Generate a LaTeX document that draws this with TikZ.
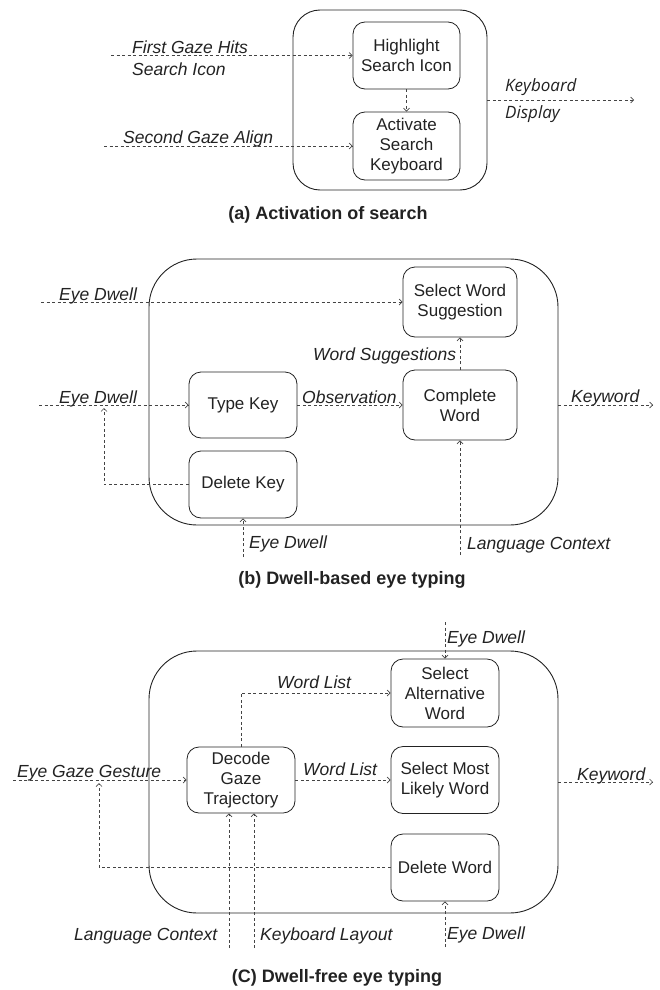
\documentclass[tikz,border=0pt]{standalone}
\usepackage{fontspec}
\setmainfont{Liberation Sans}
\newfontfamily\osans{Open Sans}
\usetikzlibrary{arrows.meta}
\definecolor{ink}{HTML}{222222}
\definecolor{wire}{HTML}{444444}
\begin{document}
\begin{tikzpicture}[x=1pt,y=-1pt,
  proc/.style={draw=ink, line width=0.8pt, rounded corners=12pt, align=center,
    font=\fontsize{17}{20}\selectfont, text=ink, inner sep=0pt},
  outerbox/.style={draw=ink, line width=0.9pt, inner sep=0pt},
  flow/.style={draw=wire, line width=0.7pt, dash pattern=on 3pt off 2.5pt,
    -{Straight Barb[length=3pt,width=6pt]}},
  lab/.style={font=\fontsize{17.5}{20}\selectfont\itshape, text=ink, inner sep=0pt, anchor=base west},
  olab/.style={font=\fontsize{17}{20}\osans\itshape, text=ink, inner sep=0pt, anchor=base west},
  captext/.style={font=\fontsize{18}{20}\selectfont\bfseries, text=ink, inner sep=0pt, anchor=base}
]
\useasboundingbox (0,0) rectangle (660,990);

% ---------------- (a) ----------------
\node[outerbox, rounded corners=27pt, minimum width=194pt, minimum height=180pt] (A) at (390,100) {};
\node[proc, minimum width=107pt, minimum height=67pt] (hl) at (406.5,55.5) {Highlight\\Search Icon};
\node[proc, minimum width=107pt, minimum height=68pt] (ak) at (406.5,146) {Activate\\Search\\Keyboard};
\coordinate (a1) at (111,55.5);
\coordinate (a2) at (104,146);
\coordinate (aout) at (634,100);
\draw[flow] (a1) -- (hl.west);
\draw[flow] (a2) -- (ak.west);
\draw[flow] (hl) -- (ak);
\draw[flow] (A.east) -- (aout);
\node[lab] (la1) at (132,53) {First Gaze Hits};
\node[lab] (la2) at (132,75) {Search Icon};
\node[lab] (la3) at (123,143) {Second Gaze Align};
\node[olab] (la4) at (505,91) {Keyboard};
\node[olab] (la5) at (505,118) {Display};
\node[captext] (capa) at (328,219) {(a) Activation of search};

% ---------------- (b) ----------------
\node[outerbox, rounded corners=48pt, minimum width=409pt, minimum height=266pt] (B) at (353.5,392) {};
\node[proc, minimum width=114pt, minimum height=70pt] (sws) at (460,302) {Select Word\\Suggestion};
\node[proc, minimum width=114pt, minimum height=70pt] (cw) at (460,405) {Complete\\Word};
\node[proc, minimum width=108pt, minimum height=66pt] (tk) at (243,405) {Type Key};
\node[proc, minimum width=108pt, minimum height=67pt] (dk) at (243,484.5) {Delete Key};
\coordinate (b1) at (41,302);
\coordinate (b2) at (39,405);
\coordinate (b3) at (104,408);
\coordinate (b4) at (243,557);
\coordinate (b5) at (460,555);
\coordinate (bout) at (653,405);
\draw[flow] (b1) -- (sws.west);
\draw[flow] (b2) -- (tk.west);
\draw[flow] (dk.west) -| (b3);
\draw[flow] (tk.east) -- (cw.west);
\draw[flow] (cw) -- (sws);
\draw[flow] (b4) -- (dk.south);
\draw[flow] (b5) -- (cw.south);
\draw[flow] (B.east |- cw.east) -- (bout);
\node[lab] (lb1) at (59,300) {Eye Dwell};
\node[lab] (lb2) at (59,403) {Eye Dwell};
\node[lab] (lb3) at (302,403) {Observation};
\node[lab] (lb4) at (313,360) {Word Suggestions};
\node[lab] (lb5) at (571,402) {Keyword};
\node[lab] (lb6) at (249,548) {Eye Dwell};
\node[lab] (lb7) at (467,549) {Language Context};
\node[captext] (capb) at (352,584) {(b) Dwell-based eye typing};

% ---------------- (c) ----------------
\node[outerbox, rounded corners=48pt, minimum width=409pt, minimum height=262pt] (C) at (353.5,782) {};
\node[proc, minimum width=108pt, minimum height=66pt] (dg) at (241,780) {Decode\\Gaze\\Trajectory};
\node[proc, minimum width=108pt, minimum height=68pt] (sa) at (445,693) {Select\\Alternative\\Word};
\node[proc, minimum width=108pt, minimum height=67pt] (sm) at (445,780) {Select Most\\Likely Word};
\node[proc, minimum width=108pt, minimum height=67pt] (dw) at (445,867.5) {Delete Word};
\coordinate (c1) at (13,780);
\coordinate (c2) at (99,783);
\coordinate (c3) at (445,622);
\coordinate (c4) at (445,947);
\coordinate (c5) at (229,948);
\coordinate (c6) at (254,948);
\coordinate (cout) at (653,782);
\draw[flow] (c1) -- (dg.west);
\draw[flow] (dw.west) -| (c2);
\draw[flow] (dg.north) |- (sa.west);
\draw[flow] (dg.east) -- (sm.west);
\draw[flow] (c3) -- (sa.north);
\draw[flow] (c4) -- (dw.south);
\draw[flow] (c5) -- (c5 |- dg.south);
\draw[flow] (c6) -- (c6 |- dg.south);
\draw[flow] (C.east) -- (cout);
\node[lab] (lc1) at (17,777) {Eye Gaze Gesture};
\node[lab] (lc2) at (277,688) {Word List};
\node[lab] (lc3) at (303,775) {Word List};
\node[lab] (lc4) at (447,643) {Eye Dwell};
\node[lab] (lc5) at (577,780) {Keyword};
\node[lab] (lc6) at (74,940) {Language Context};
\node[lab] (lc7) at (260,940) {Keyboard Layout};
\node[lab] (lc8) at (447,939) {Eye Dwell};
\node[captext] (capc) at (337,982) {(C) Dwell-free eye typing};
\end{tikzpicture}
\end{document}
